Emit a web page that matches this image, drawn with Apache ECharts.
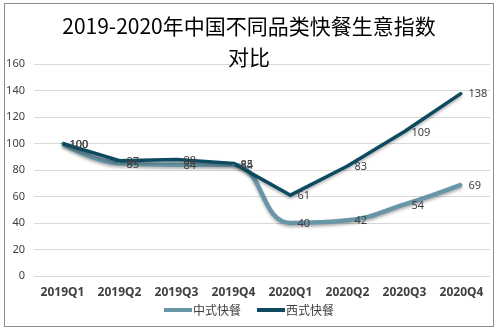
<!DOCTYPE html>
<html><head><meta charset="utf-8">
<script src="https://cdn.jsdelivr.net/npm/echarts@6/dist/echarts.min.js"></script>
<style>html,body{margin:0;padding:0;background:#fff}#c{width:498px;height:331px}
#frame{position:absolute;left:4px;top:3px;width:488px;height:322px;border:1px solid #8c8c8c;pointer-events:none}</style>
</head><body><div id="c"></div><div id="frame"></div>
<script>
var categories = ['2019Q1','2019Q2','2019Q3','2019Q4','2020Q1','2020Q2','2020Q3','2020Q4'];
var chineseName = '中式快餐';
var westernName = '西式快餐';
var chineseValues = [100, 85, 84, 84, 40, 42, 54, 69];
var westernValues = [100, 87, 88, 85, 61, 83, 109, 138];
var yTicks = {min: 0, max: 160, interval: 20};

var chart = echarts.init(document.getElementById('c'));
var lbl = {show: true, position: 'right', color: '#404040', fontSize: 11, fontFamily: 'Noto Sans', distance: 6, offset: [0, 1]};
chart.setOption({
  animation: false,
  title: {
    text: '2019-2020年中国不同品类快餐生意指数\n对比',
    left: 'center', top: 6,
    textStyle: {fontFamily: 'Noto Sans CJK SC', fontSize: 21, fontWeight: 'normal', color: '#000', lineHeight: 31}
  },
  legend: {
    bottom: 10, left: 'center', itemWidth: 28, itemHeight: 4, itemGap: 16,
    icon: 'rect',
    textStyle: {fontFamily: 'Noto Sans CJK SC', fontSize: 12, color: '#404040', padding: [0,0,0,-4]},
    data: [chineseName, westernName]
  },
  grid: {left: 34, right: 8, top: 64, bottom: 55, containLabel: false},
  xAxis: {
    type: 'category', data: categories, boundaryGap: true,
    axisLine: {show: false}, axisTick: {show: false},
    axisLabel: {color: '#404040', fontSize: 12, fontWeight: 'bold', fontFamily: 'Noto Sans', margin: 11}
  },
  yAxis: {
    type: 'value', min: yTicks.min, max: yTicks.max, interval: yTicks.interval,
    axisLine: {show: false}, axisTick: {show: false},
    splitLine: {lineStyle: {color: '#d9d9d9', width: 1}},
    axisLabel: {color: '#404040', fontSize: 11, fontFamily: 'Noto Sans', margin: 9}
  },
  series: [
    {name: chineseName, type: 'line', data: chineseValues, smooth: 0.45, showSymbol: true, symbol: 'circle', symbolSize: 2,
     lineStyle: {color: '#6896a7', width: 4.5, shadowColor: 'rgba(0,0,0,0.3)', shadowBlur: 3, shadowOffsetY: 2},
     itemStyle: {color: '#6896a7'}, label: lbl},
    {name: westernName, type: 'line', data: westernValues, smooth: false, showSymbol: true, symbol: 'circle', symbolSize: 2,
     lineStyle: {color: '#0d4a60', width: 3.5, shadowColor: 'rgba(0,0,0,0.3)', shadowBlur: 3, shadowOffsetY: 2, join: 'round'},
     itemStyle: {color: '#0d4a60'}, label: lbl}
  ]
});
</script></body></html>
